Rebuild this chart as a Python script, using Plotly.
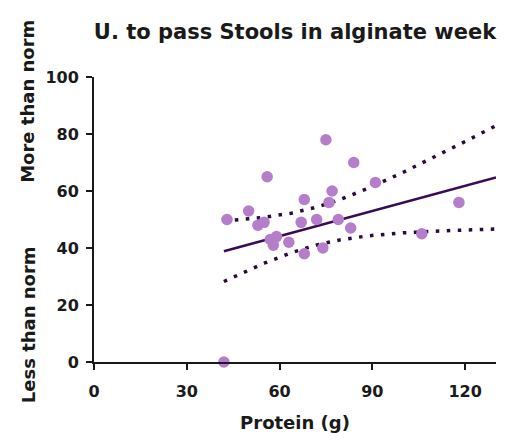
import numpy as np
import plotly.graph_objects as go

# Daily protein intake (g) and urge score during the alginate week
protein_g = [42, 43, 50, 53, 55, 56, 57, 58, 59, 63, 67, 68, 68, 72,
             74, 75, 76, 77, 79, 83, 84, 91, 106, 118]
urge_score = [0, 50, 53, 48, 49, 65, 43, 41, 44, 42, 49, 57, 38, 50,
              40, 78, 56, 60, 50, 47, 70, 63, 45, 56]

# Linear regression summary
fit_slope = 0.2945
fit_intercept = 26.5
fit_x_center = 71.0
fit_se_center = 3.2      # SE of the mean prediction at fit_x_center
fit_se_slope = 0.138     # SE of the slope
t_crit = 2.074           # 95% two-sided, df = 22

x_tick_vals = [0, 30, 60, 90, 120]
y_tick_vals = [0, 20, 40, 60, 80, 100]
x_max = 130

FONT = "DejaVu Sans"
INK = "#1a1a1a"
POINT_COLOR = "#b47ecb"
FIT_COLOR = "#3a0b55"
BAND_COLOR = "#2a0a3c"

xs = np.linspace(min(protein_g), x_max, 200)
y_fit = fit_intercept + fit_slope * xs
half_width = t_crit * np.sqrt(fit_se_center ** 2 + (fit_se_slope * (xs - fit_x_center)) ** 2)

fig = go.Figure()

for band in (y_fit + half_width, y_fit - half_width):
    fig.add_trace(go.Scatter(
        x=xs, y=band, mode="lines",
        line=dict(color=BAND_COLOR, width=3.5, dash="3.5px,7.5px"),
        hoverinfo="skip", showlegend=False, cliponaxis=False,
    ))

fig.add_trace(go.Scatter(
    x=xs, y=y_fit, mode="lines",
    line=dict(color=FIT_COLOR, width=2.5),
    hoverinfo="skip", showlegend=False, cliponaxis=False,
))

fig.add_trace(go.Scatter(
    x=protein_g, y=urge_score, mode="markers",
    marker=dict(color=POINT_COLOR, size=11.5, line=dict(width=0)),
    showlegend=False, cliponaxis=False,
))

axis_common = dict(
    showgrid=False, zeroline=False, showline=True,
    linecolor=INK, linewidth=2, mirror=False,
    ticks="outside", ticklen=6, tickwidth=2, tickcolor=INK,
    tickfont=dict(family=FONT, size=16, color=INK, weight="bold"),
)

fig.update_layout(
    width=511, height=444,
    margin=dict(l=94, r=15, t=77, b=82),
    paper_bgcolor="white", plot_bgcolor="white",
    title=dict(
        text="U. to pass Stools in alginate week",
        font=dict(family=FONT, size=21, color=INK, weight="bold"),
        x=0.5, xref="paper", xanchor="center",
        y=1 - 31.5 / 444, yref="container", yanchor="middle",
    ),
    xaxis=dict(
        range=[0, x_max], tickvals=x_tick_vals,
        ticklabelstandoff=8,
        title=dict(text="Protein (g)", standoff=16,
                   font=dict(family=FONT, size=18, color=INK, weight="bold")),
        **axis_common,
    ),
    yaxis=dict(
        range=[0, 100], tickvals=y_tick_vals,
        ticklabelstandoff=4,
        **axis_common,
    ),
)

for label, y_pos in (("Less than norm", 12.9), ("More than norm", 91.3)):
    fig.add_annotation(
        text=label, textangle=-90,
        xref="paper", x=(28 - 94) / 402, yref="y", y=y_pos,
        xanchor="center", yanchor="middle", showarrow=False,
        font=dict(family=FONT, size=18, color=INK, weight="bold"),
    )

fig.write_html("out.html")
